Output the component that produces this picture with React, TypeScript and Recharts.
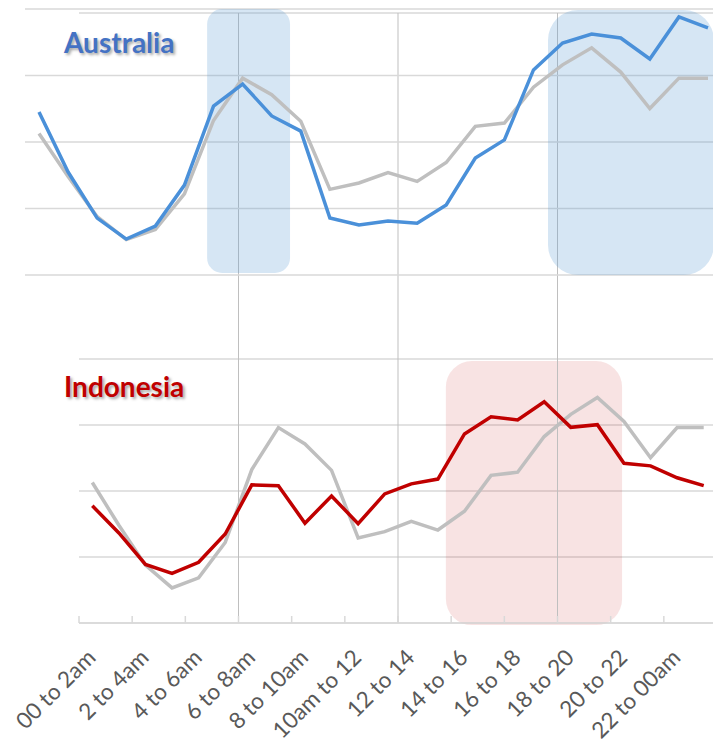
import React from 'react';
import { LineChart, Line, XAxis, YAxis, CartesianGrid, ReferenceArea, ReferenceLine, Rectangle } from 'recharts';

// hourly slots, 0 = midnight
const hours = [0, 1, 2, 3, 4, 5, 6, 7, 8, 9, 10, 11, 12, 13, 14, 15, 16, 17, 18, 19, 20, 21, 22, 23];

const slotLabels = [
  '00 to 2am', '2 to 4am', '4 to 6am', '6 to 8am', '8 to 10am', '10am to 12',
  '12 to 14', '14 to 16', '16 to 18', '18 to 20', '20 to 22', '22 to 00am',
];

// worldwide average (grey line, same in both panels)
const globalAvg = [53.2, 37.0, 21.9, 13.3, 17.1, 30.5, 58.1, 74.0, 67.8, 57.8, 32.2, 34.6, 38.5, 35.2, 42.3, 55.9, 57.1, 70.6, 79.0, 85.4, 76.3, 62.6, 74.0, 74.0];

const australia = [61.3, 38.7, 21.4, 13.5, 18.4, 33.8, 63.5, 71.8, 59.8, 54.1, 21.4, 18.8, 20.3, 19.5, 26.3, 44.0, 50.8, 77.1, 87.2, 90.6, 89.1, 81.2, 97.0, 92.9];

const indonesia = [44.4, 34.1, 22.2, 18.8, 23.0, 33.7, 52.3, 52.0, 37.8, 48.1, 37.6, 48.9, 52.7, 54.5, 71.6, 78.1, 76.9, 83.8, 74.1, 75.1, 60.5, 59.5, 55.0, 52.0];

const gridTicks = [0, 25, 50, 75, 100];
const slotBounds = [-0.5, 1.5, 3.5, 5.5, 7.5, 9.5, 11.5, 13.5, 15.5, 17.5, 19.5, 21.5];
const markerLines = [5.5, 11.5, 17.5];

const auData = hours.map((h, i) => ({ hour: h, australia: australia[i], global: globalAvg[i] }));
const idData = hours.map((h, i) => ({ hour: h, indonesia: indonesia[i], global: globalAvg[i] }));

const GRID = '#D9D9D9';
const GREY = '#BFBFBF';
const FONT = 'Lato, "Open Sans", sans-serif';

const SlotTick = (props: any) => {
  const { x, y, index } = props;
  const lx = x + 18;
  const ly = y + 36;
  return (
    <g>
      <line x1={x} x2={x} y1={y - 7} y2={y} stroke={GRID} strokeWidth={1.5} />
      <text x={lx} y={ly} transform={`rotate(-45 ${lx} ${ly})`} textAnchor="end" fill="#595959" fontSize={22.5} fontFamily={FONT}>
        {slotLabels[index]}
      </text>
    </g>
  );
};

const roundBox = (r: number) => (p: any) => <Rectangle {...p} radius={r} />;

const titleStyle: React.CSSProperties = {
  position: 'absolute',
  fontFamily: FONT,
  fontWeight: 700,
  fontSize: 28,
  lineHeight: '28px',
  textShadow: '2px 2px 3px rgba(0,0,0,0.35)',
  whiteSpace: 'nowrap',
};

export default function App() {
  return (
    <div style={{ position: 'absolute', left: 0, top: 0, width: 713, height: 747, overflow: 'hidden', background: '#fff' }}>
      {/* Indonesia panel (also carries the vertical marker lines) */}
      <div style={{ position: 'absolute', left: 0, top: 0 }}>
        <LineChart width={720} height={747} data={idData} margin={{ top: 13, right: 3, left: 79, bottom: 24 }}>
          <CartesianGrid vertical={false} stroke={GRID} strokeWidth={1.5} />
          <XAxis
            type="number"
            dataKey="hour"
            domain={[-0.5, 23.5]}
            ticks={slotBounds}
            interval={0}
            height={100}
            tickSize={0}
            tickMargin={0}
            tickLine={false}
            axisLine={{ stroke: GRID, strokeWidth: 1.5 }}
            tick={<SlotTick />}
          />
          <YAxis hide domain={[0, 231]} ticks={gridTicks} />
          <ReferenceArea x1={13.3} x2={19.93} y1={-0.8} y2={99.2} ifOverflow="visible" fill="#C00000" fillOpacity={0.11} stroke="none" shape={roundBox(26)} />
          {markerLines.map((m) => (
            <ReferenceLine key={m} x={m} stroke={GREY} strokeWidth={1} />
          ))}
          <Line type="linear" dataKey="global" stroke={GREY} strokeWidth={3.5} dot={false} isAnimationActive={false} />
          <Line type="linear" dataKey="indonesia" stroke="#C00000" strokeWidth={3.5} dot={false} isAnimationActive={false} />
        </LineChart>
      </div>

      {/* Australia panel */}
      <div style={{ position: 'absolute', left: 0, top: 0 }}>
        <LineChart width={713} height={280} data={auData} margin={{ top: 9, right: 0, left: 25, bottom: 5 }}>
          <CartesianGrid vertical={false} stroke={GRID} strokeWidth={1.5} />
          <XAxis hide type="number" dataKey="hour" domain={[0, 23]} padding={{ left: 14, right: 5 }} />
          <YAxis hide domain={[0, 100]} ticks={gridTicks} />
          <ReferenceArea x1={5.78} x2={8.63} y1={0.75} y2={100} ifOverflow="visible" fill="#5B9BD5" fillOpacity={0.25} stroke="none" shape={roundBox(15)} />
          <ReferenceArea x1={17.5} x2={23.2} y1={0} y2={99.6} ifOverflow="visible" fill="#5B9BD5" fillOpacity={0.25} stroke="none" shape={roundBox(30)} />
          <Line type="linear" dataKey="global" stroke={GREY} strokeWidth={3.5} dot={false} isAnimationActive={false} />
          <Line type="linear" dataKey="australia" stroke="#4A90D9" strokeWidth={3.5} dot={false} isAnimationActive={false} />
        </LineChart>
      </div>

      <div style={{ ...titleStyle, left: 64, top: 28, color: '#4472C4' }}>Australia</div>
      <div style={{ ...titleStyle, left: 64, top: 372, color: '#C00000' }}>Indonesia</div>
    </div>
  );
}
